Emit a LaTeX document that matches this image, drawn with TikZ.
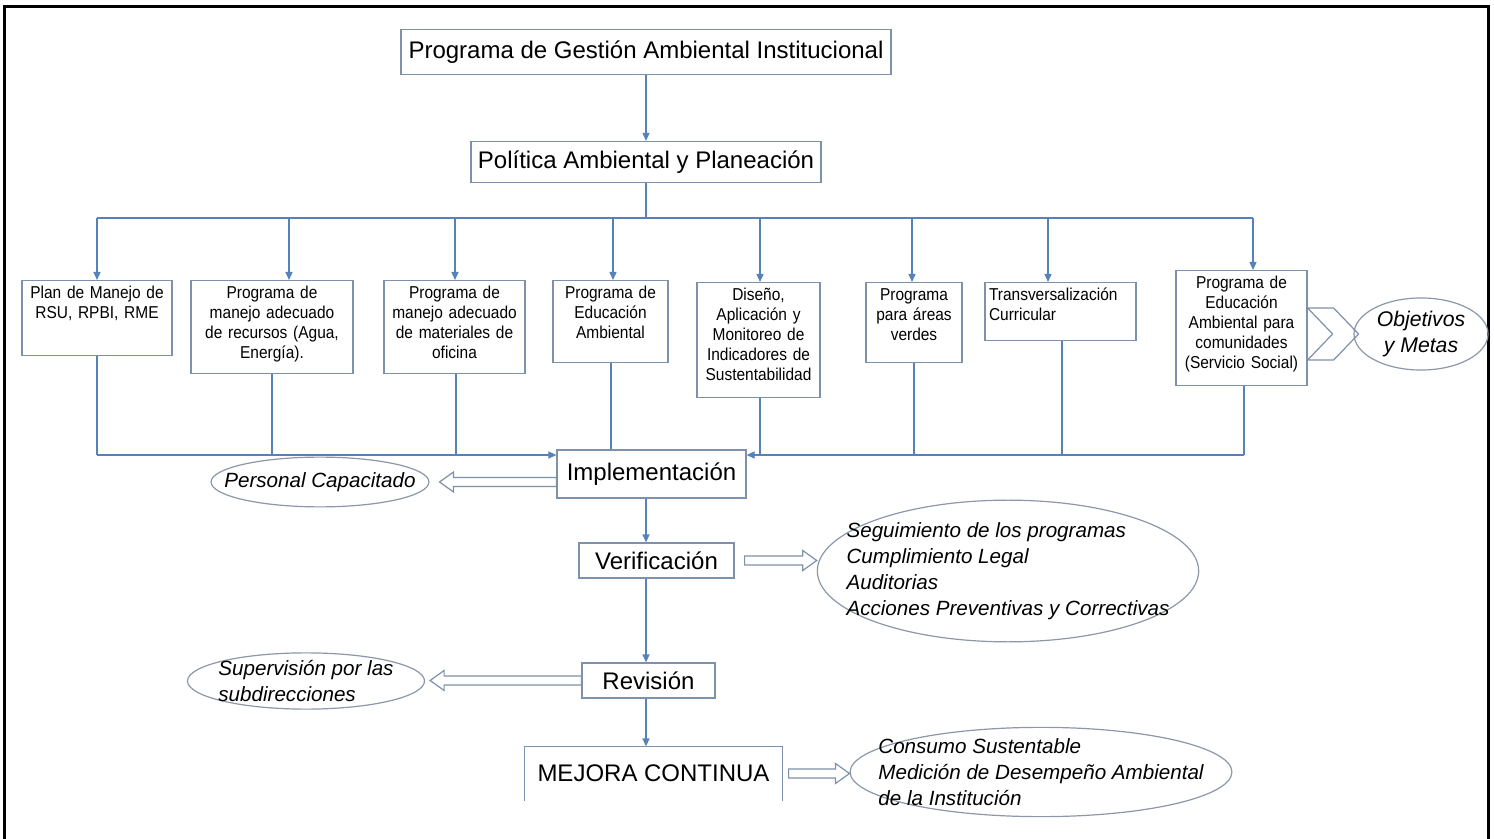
\documentclass[tikz,border=0pt]{standalone}
\usepackage{fontspec}
\setmainfont{Liberation Sans}
\newfontfamily\progfont[FakeStretch=0.9]{Liberation Sans}
\usetikzlibrary{arrows.meta,shapes.geometric,calc}
\definecolor{linkblue}{RGB}{85,130,185}
\definecolor{boxline}{RGB}{125,145,170}
\definecolor{ovalline}{RGB}{140,152,168}

\begin{document}
\begin{tikzpicture}[
    x=0.5pt, y=-0.5pt,
    mainbox/.style={draw=boxline, line width=0.6pt, rectangle, inner sep=0pt,
      font=\fontsize{12}{14}\selectfont, text centered, fill=white},
    progbox/.style={draw=boxline, line width=0.6pt, rectangle, anchor=north,
      align=center, inner xsep=2pt, inner ysep=2.5pt, text height=6.5pt,
      font=\progfont\fontsize{8.6}{10}\selectfont, fill=white},
    oval/.style={draw=ovalline, line width=0.6pt, ellipse, align=left,
      font=\fontsize{10.3}{13}\selectfont\itshape},
    arrow/.style={draw=linkblue, line width=0.6pt, -{Triangle[length=4pt,width=3.5pt]}},
    link/.style={draw=linkblue, line width=0.6pt},
    fat/.style={draw=boxline, line width=0.6pt, to path={
      let \p1=(\tikztostart), \p2=(\tikztotarget), \n1={sign(\x2-\x1)} in
      (\x1,{\y1+2.25pt}) -- ({\x2-\n1*7pt},{\y1+2.25pt}) -- ({\x2-\n1*7pt},{\y1+5pt})
      -- (\x2,\y1) -- ({\x2-\n1*7pt},{\y1-5pt}) -- ({\x2-\n1*7pt},{\y1-2.25pt})
      -- (\x1,{\y1-2.25pt}) -- cycle}},
    chevron/.style={draw=boxline, line width=0.6pt}
]
\useasboundingbox (0,0) rectangle (1494,839);
\fill[white] (0,0) rectangle (1494,839);
\draw[line width=1.5pt] (4,839) |- (1488,7) -- (1488,839);

\node (title) [mainbox, minimum width=245pt, minimum height=22.5pt] at (646,52)
  {Programa de Gestión Ambiental Institucional};
\node (pol)   [mainbox, minimum width=175pt, minimum height=20.5pt] at (646,162)
  {Política Ambiental y Planeación};

\node (p1) [progbox, text width=71pt, text depth=26pt] at (97,280)
  {Plan de Manejo de\\RSU, RPBI, RME};
\node (p2) [progbox, text width=77pt, text depth=35pt] at (272,280)
  {Programa de\\manejo adecuado\\de recursos (Agua,\\Energía).};
\node (p3) [progbox, text width=66.5pt, text depth=35pt] at (454.5,280)
  {Programa de\\manejo adecuado\\de materiales de\\oficina};
\node (p4) [progbox, text width=53.5pt, text depth=29.5pt] at (610.5,280)
  {Programa de\\Educación\\Ambiental};
\node (p5) [progbox, text width=57.5pt, text depth=46pt] at (758.5,282)
  {Diseño,\\Aplicación y\\Monitoreo de\\Indicadores de\\Sustentabilidad};
\node (p6) [progbox, text width=44pt, text depth=28.5pt] at (914,282)
  {Programa\\para áreas\\verdes};
\node (p7) [progbox, text width=71.5pt, text depth=17.5pt, align=left] at (1060.5,282)
  {Transversalización\\Curricular};
\node (p8) [progbox, text width=61.5pt, text depth=46pt] at (1241.5,270)
  {Programa de\\Educación\\Ambiental para\\comunidades\\(Servicio Social)};

\node (obj) [oval, font=\fontsize{10.6}{13}\selectfont\itshape, align=center,
  inner xsep=1.6pt, inner ysep=1.3pt] at (1421,334) {Objetivos\\y Metas};

\node (impl)  [mainbox, minimum width=94.5pt, minimum height=24pt] at (651.5,474)
  {Implementación};
\node (verif) [mainbox, minimum width=77.5pt, minimum height=17.5pt] at (656.5,560.5)
  {Verificación};
\node (rev)   [mainbox, minimum width=66.5pt, minimum height=17.5pt] at (648.5,680.5)
  {Revisión};
\node (mej)   [mainbox, draw=none, minimum width=128.5pt, minimum height=26.5pt] at (653.5,773.5)
  {MEJORA CONTINUA};

\node (pers) [oval, inner xsep=-9.3pt, inner ysep=4pt] at (320,482)
  {Personal Capacitado};
\node (segu) [oval, inner xsep=-13.3pt, inner ysep=0.75pt] at (1008,571)
  {Seguimiento de los programas\\Cumplimiento Legal\\Auditorias\\Acciones Preventivas y Correctivas};
\node (sup)  [oval, inner xsep=-1.9pt, inner ysep=-0.4pt] at (306,681)
  {Supervisión por las\\subdirecciones};
\node (cons) [oval, inner xsep=-13.8pt, inner ysep=-1pt] at (1041,772)
  {Consumo Sustentable\\Medición de Desempeño Ambiental\\de la Institución};

\draw [arrow] (title) -- (pol);
\coordinate (bus) at (646,218);
\draw [link] (pol) -- (bus);
\foreach \i/\x in {1/97,2/289,3/455,4/613,5/760,6/912,7/1048,8/1253}{
  \coordinate (t\i) at (\x,218);
  \draw [arrow] (t\i) -- (t\i |- p\i.north);
}
\draw [link] (t1) -- (t8);

\foreach \i/\x in {1/97,2/272,3/456,4/611,5/760,6/914,7/1062,8/1244}
  \coordinate (b\i) at (\x,455);
\foreach \i in {1,2,3,5,6,7,8}
  \draw [link] (b\i |- p\i.south) -- (b\i);
\draw [link] (b4 |- p4.south) -- (b4 |- impl.north);
\draw [arrow] (b1) -- (b1 -| impl.west);
\draw [arrow] (b8) -- (b8 -| impl.east);

\coordinate (spine) at (646,0);
\draw [arrow] (impl.south -| spine) -- (verif.north -| spine);
\draw [arrow] (verif.south -| spine) -- (rev.north -| spine);
\draw [arrow] (rev.south -| spine) -- (mej.north -| spine);
\draw [boxline, line width=0.6pt] (mej.south west) -- (mej.north west)
  -- (mej.north east) -- (mej.south east);

\draw [fat] (impl.west |- pers.east) to ([xshift=5pt]pers.east);
\draw [fat] ([xshift=5pt]verif.east) to (segu.west);
\draw [fat] (rev.west) to ([xshift=2.5pt]sup.east);
\draw [fat] ([xshift=3pt]mej.east) to (cons.west);
\draw [chevron] (p8.east |- obj.west) ++(0,13pt) -- ++(13pt,0) -- ++(12.5pt,-13pt)
  -- ++(-12.5pt,-13pt) -- ++(-13pt,0) -- ++(12.5pt,13pt) -- cycle;
\end{tikzpicture}
\end{document}
